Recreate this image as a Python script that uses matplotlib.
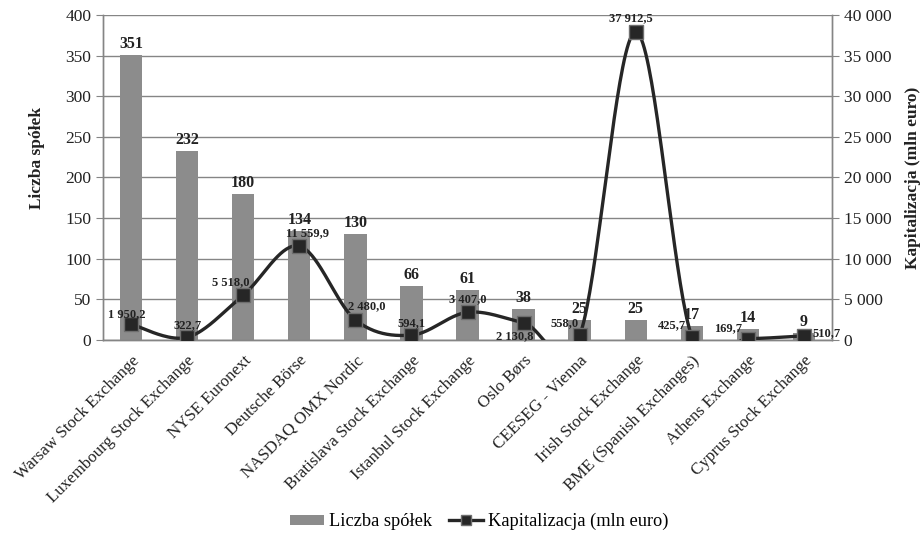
import numpy as np
import matplotlib
matplotlib.use("Agg")
import matplotlib.pyplot as plt
from matplotlib.lines import Line2D
from matplotlib.patches import Patch

categories = ["Warsaw Stock Exchange", "Luxembourg Stock Exchange", "NYSE Euronext",
              "Deutsche Börse", "NASDAQ OMX Nordic", "Bratislava Stock Exchange",
              "Istanbul Stock Exchange", "Oslo Børs", "CEESEG - Vienna",
              "Irish Stock Exchange", "BME (Spanish Exchanges)", "Athens Exchange",
              "Cyprus Stock Exchange"]
companies = [351, 232, 180, 134, 130, 66, 61, 38, 25, 25, 17, 14, 9]
capitalization = [1950.2, 322.7, 5518.0, 11559.9, 2480.0, 594.1, 3407.0,
                  2130.8, 558.0, 37912.5, 425.7, 169.7, 510.7]
left_ticks = [0, 50, 100, 150, 200, 250, 300, 350, 400]
right_ticks = [0, 5000, 10000, 15000, 20000, 25000, 30000, 35000, 40000]

# label offsets in pixels (style only)
cap_offsets = [(-4, 10), (0, 12), (-12, 13), (8, 13), (11, 14), (0, 12), (0, 13),
               (-9, -13), (-15, 12), (-5, 14), (-20, 11), (-20, 10), (23, 3)]

plt.rcParams['font.family'] = ['Liberation Serif', 'DejaVu Serif']

fig = plt.figure(figsize=(9.22, 5.36), dpi=100)
ax = fig.add_axes([0.1117, 0.3657, 0.7907, 0.6063])
ax2 = ax.twinx()

x = np.arange(len(categories))
bar_color = '#8c8c8c'
grid_color = '#858585'
text_color = '#222222'

ax.bar(x, companies, width=0.4, color=bar_color, zorder=2)
ax.set_xlim(-0.5, len(categories) - 0.5)
ax.set_ylim(0, 400)
ax.set_yticks(left_ticks)
ax.yaxis.grid(True, color=grid_color, linewidth=1.0, zorder=0)
ax.set_axisbelow(True)
for i, v in enumerate(companies):
    ax.annotate(str(v), (x[i], v), xytext=(0, 11), textcoords='offset pixels',
                ha='center', va='center', fontsize=11.5, fontweight='bold', color=text_color)

ax.set_xticks(x)
ax.set_xticklabels(categories, rotation=45, ha='right', rotation_mode='anchor',
                   fontsize=12.2, color=text_color)
ax.tick_params(axis='x', length=0, pad=9)
ax.tick_params(axis='y', labelsize=12.5, colors=text_color, length=5, color=grid_color)
ax.set_ylabel('Liczba spółek', fontsize=12.5, fontweight='bold', color=text_color)
ax.yaxis.set_label_coords(-0.080, 0.56)

# Smoothed line (Catmull-Rom Bezier, like spreadsheet smoothing)
y = np.array(capitalization)
n = len(y)
xs, ys = [], []
t = np.linspace(0, 1, 40)
for i in range(n - 1):
    p0 = y[i - 1] if i > 0 else y[i]
    p1 = y[i]
    p2 = y[i + 1]
    p3 = y[i + 2] if i + 2 < n else y[i + 1]
    x0 = x[i - 1] if i > 0 else x[i]
    x3 = x[i + 2] if i + 2 < n else x[i + 1]
    c1y = p1 + (p2 - p0) / 6
    c2y = p2 - (p3 - p1) / 6
    c1x = x[i] + (x[i + 1] - x0) / 6
    c2x = x[i + 1] - (x3 - x[i]) / 6
    bx = (1 - t) ** 3 * x[i] + 3 * (1 - t) ** 2 * t * c1x + 3 * (1 - t) * t ** 2 * c2x + t ** 3 * x[i + 1]
    by = (1 - t) ** 3 * p1 + 3 * (1 - t) ** 2 * t * c1y + 3 * (1 - t) * t ** 2 * c2y + t ** 3 * p2
    xs.extend(bx)
    ys.extend(by)

line_color = '#262626'
ax2.plot(xs, ys, color=line_color, linewidth=2.4, zorder=3, solid_capstyle='round')
ax2.plot(x, y, linestyle='none', marker='s', markersize=9.5, markerfacecolor='#262626',
         markeredgecolor='#6e6e6e', markeredgewidth=1.0, zorder=4)
ax2.set_ylim(0, 40000)
ax2.set_yticks(right_ticks)
ax2.set_yticklabels([f"{v:,}".replace(",", " ") for v in right_ticks])
ax2.tick_params(axis='y', labelsize=12.5, colors=text_color, length=5, color=grid_color)
ax2.set_ylabel('Kapitalizacja (mln euro)', fontsize=12.5, fontweight='bold', labelpad=10,
               color=text_color)


def fmt(v):
    s = f"{v:,.1f}".replace(",", " ").replace(".", ",")
    return s


for i, v in enumerate(capitalization):
    dx, dy = cap_offsets[i]
    ax2.annotate(fmt(v), (x[i], v), xytext=(dx, dy), textcoords='offset pixels',
                 ha='center', va='center', fontsize=9, fontweight='bold', color=text_color,
                 zorder=5)

for a in (ax, ax2):
    a.spines['top'].set_visible(False)
    for s in ('left', 'right', 'bottom'):
        a.spines[s].set_color(grid_color)
        a.spines[s].set_linewidth(1.0)

handles = [Patch(facecolor=bar_color, edgecolor='none'),
           Line2D([0], [0], color=line_color, linewidth=2.4, marker='s', markersize=7,
                  markerfacecolor='#262626', markeredgecolor='#6e6e6e')]
fig.legend(handles, ['Liczba spółek', 'Kapitalizacja (mln euro)'], loc='center',
           bbox_to_anchor=(0.5195, 0.027), ncol=2, frameon=False, fontsize=13.2,
           handlelength=1.9, handleheight=0.45, columnspacing=0.9, handletextpad=0.25)

fig.savefig('out.png', dpi=100)
